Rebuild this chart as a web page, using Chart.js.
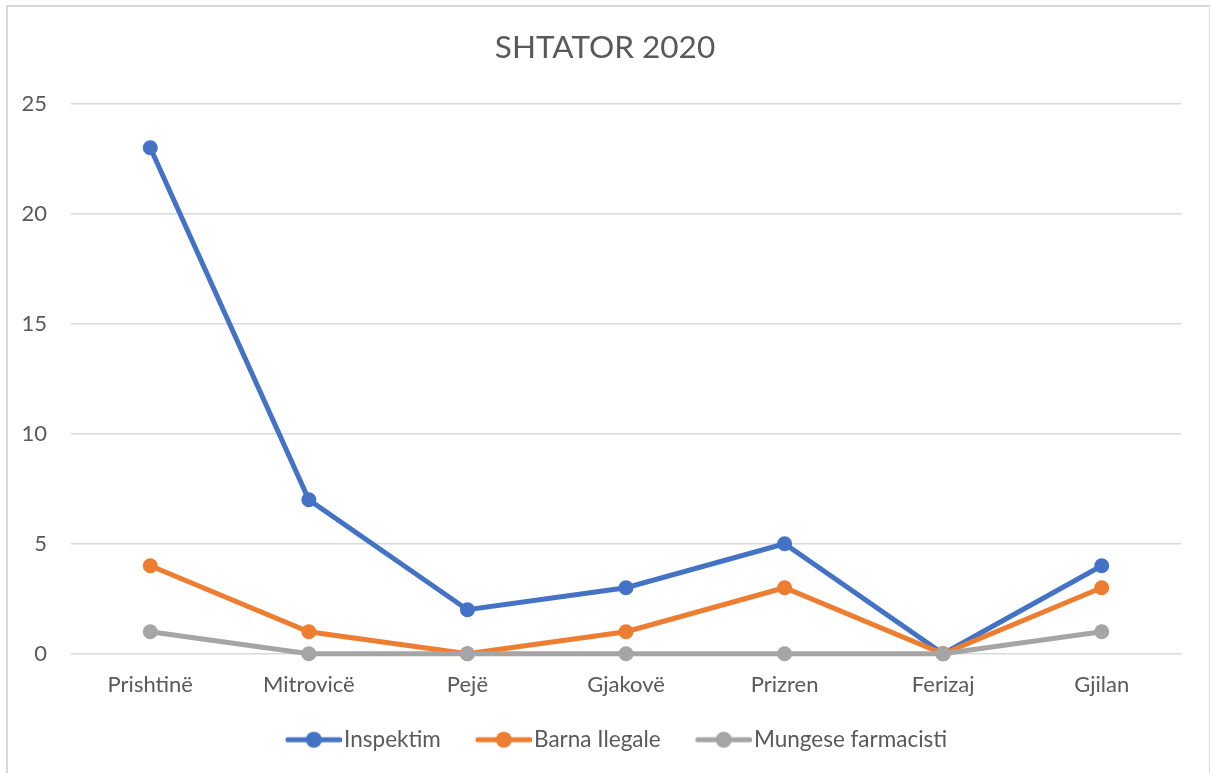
<!DOCTYPE html>
<html>
<head>
<meta charset="utf-8">
<script src="https://cdn.jsdelivr.net/npm/chart.js@4.4.0/dist/chart.umd.min.js"></script>
<style>
  body { margin: 0; background: #fff; }
  #frame { position: absolute; left: 6px; top: 5px; width: 1201px; height: 800px; border: 2px solid #d9d9d9; }
  #chart { position: absolute; left: 0; top: 0; }
</style>
</head>
<body>
<div id="frame"></div>
<canvas id="chart" width="1210" height="773"></canvas>
<script>
// Data
const cities = ["Prishtinë", "Mitrovicë", "Pejë", "Gjakovë", "Prizren", "Ferizaj", "Gjilan"];
const inspektim = [23, 7, 2, 3, 5, 0, 4];
const barnaIlegale = [4, 1, 0, 1, 3, 0, 3];
const mungeseFarmacisti = [1, 0, 0, 0, 0, 0, 1];
const seriesNames = ["Inspektim", "Barna Ilegale", "Mungese farmacisti"];
const seriesColors = ["#4472C4", "#ED7D31", "#A5A5A5"];

const FONT = "Lato, 'Open Sans', sans-serif";
const TEXT = "#595959";

// legend marker: line with a dot, sitting in the right part of a wider image
// so the gap before it and the gap to the text come out like the original
function legendMarker(color) {
  const c = document.createElement("canvas");
  c.width = 88;
  c.height = 18;
  const g = c.getContext("2d");
  g.strokeStyle = color;
  g.lineWidth = 5;
  g.lineCap = "round";
  g.beginPath();
  g.moveTo(34, 9);
  g.lineTo(86, 9);
  g.stroke();
  g.fillStyle = color;
  g.beginPath();
  g.arc(60, 9, 8, 0, Math.PI * 2);
  g.fill();
  return c;
}

function series(i, values) {
  return {
    label: seriesNames[i],
    data: values,
    borderColor: seriesColors[i],
    backgroundColor: seriesColors[i],
    borderWidth: 5,
    pointRadius: 7.5,
    pointHoverRadius: 7.5,
    pointBorderWidth: 0,
    tension: 0,
    clip: false,
    order: 3 - i // later series drawn on top, like the original
  };
}

new Chart(document.getElementById("chart"), {
  type: "line",
  data: {
    labels: cities,
    datasets: [
      series(0, inspektim),
      series(1, barnaIlegale),
      series(2, mungeseFarmacisti)
    ]
  },
  options: {
    responsive: false,
    animation: false,
    layout: { padding: { top: 0, right: 0, bottom: 12, left: 0 } },
    plugins: {
      title: {
        display: true,
        text: "SHTATOR 2020",
        color: TEXT,
        font: { family: FONT, size: 31.5, weight: "normal" },
        padding: { top: 29, bottom: 37 }
      },
      legend: {
        position: "bottom",
        labels: {
          color: TEXT,
          font: { family: FONT, size: 22.5 },
          usePointStyle: true,
          pointStyleWidth: 70,
          padding: 12,
          generateLabels: function (chart) {
            return chart.data.datasets.map((ds, i) => ({
              text: ds.label,
              pointStyle: legendMarker(seriesColors[i]),
              fillStyle: seriesColors[i],
              strokeStyle: seriesColors[i],
              lineWidth: 0,
              fontColor: TEXT,
              hidden: false,
              datasetIndex: i
            }));
          }
        }
      },
      tooltip: { enabled: false }
    },
    scales: {
      x: {
        offset: true,
        grid: { display: false },
        border: { display: false },
        ticks: { color: TEXT, font: { family: FONT, size: 22 }, padding: 10, maxRotation: 0 },
        afterFit: function (scale) { scale.height = 62.75; }
      },
      y: {
        min: 0,
        max: 25,
        ticks: { stepSize: 5, color: TEXT, font: { family: FONT, size: 22 }, padding: 24 },
        grid: { color: "#d9d9d9", lineWidth: 1.5, drawTicks: false },
        border: { display: false },
        afterFit: function (scale) { scale.width = 71; }
      },
      // empty right-hand margin, keeps the legend centred on the whole picture
      yRight: {
        position: "right",
        grid: { display: false },
        ticks: { display: false },
        border: { display: false },
        afterFit: function (scale) { scale.width = 29; }
      }
    }
  }
});
</script>
</body>
</html>
